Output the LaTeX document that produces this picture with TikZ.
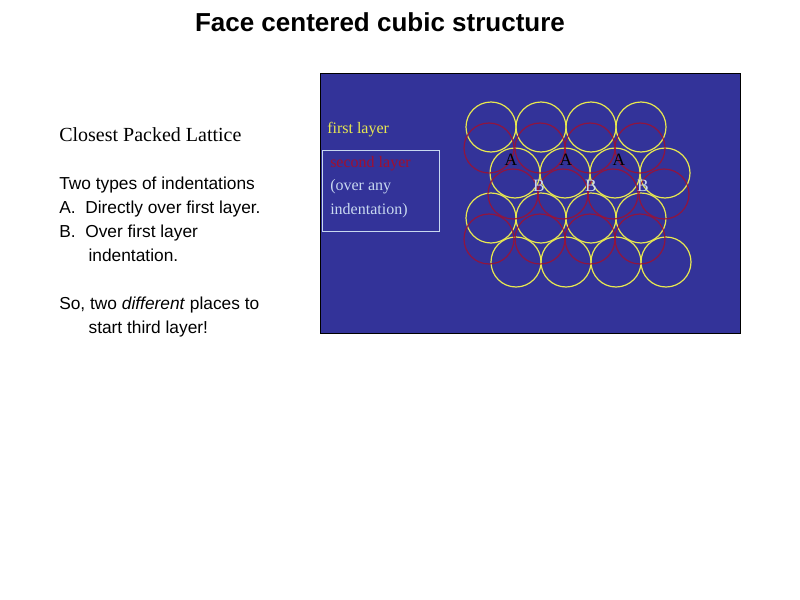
\documentclass[tikz,border=0pt]{standalone}
\usepackage{fontspec}
\setmainfont{Liberation Serif}
\newfontfamily\arial{Liberation Sans}
\definecolor{bg}{HTML}{333399}
\definecolor{yel}{HTML}{E8E850}
\definecolor{rd}{HTML}{A01030}
\definecolor{lb}{HTML}{C8D8F0}
\begin{document}
\begin{tikzpicture}[x=0.75pt,y=-0.75pt,
  ycirc/.style={draw=yel,line width=0.9pt},
  rcirc/.style={draw=rd,line width=0.9pt},
  body/.style={font=\arial\fontsize{13}{18}\selectfont,anchor=north west,align=left,inner sep=0}]
\useasboundingbox (0,0) rectangle (800,600);
\fill[white] (0,0) rectangle (800,600);
\node (title) at (380,22) {\arial\bfseries\fontsize{19.5}{22}\selectfont Face centered cubic structure};
\node[anchor=west,inner sep=0] (cpl) at (59,135) {\fontsize{15}{18}\selectfont Closest Packed Lattice};
\node[body] (txt) at (59,177) {Two types of indentations\\
A.\ \ Directly over first layer.\\
B.\ \ Over first layer\\
\hspace*{22pt}indentation.\\[18pt]
So, two \textit{different} places to\\
\hspace*{22pt}start third layer!};
\node[draw=black,fill=bg,line width=0.6pt,minimum width=420*0.75pt,minimum height=260*0.75pt,anchor=north west,inner sep=0] (panel) at (320,73) {};
\foreach \x in {491,541,591,641}{\draw[ycirc] (\x,127) circle (25); \draw[ycirc] (\x,218) circle (25);}
\foreach \x in {515,565,615,665}{\draw[ycirc] (\x,173) circle (25); \draw[ycirc] (\x+1,262) circle (25);}
\foreach \x in {489,540,590,640}{\draw[rcirc,opacity=0.85] (\x,148) circle (25); \draw[rcirc,opacity=0.85] (\x,239) circle (25);}
\foreach \x in {513,563,613,664}{\draw[rcirc,opacity=0.85] (\x,194) circle (25);}
\foreach \x in {511,566,619}{\node[text=black,font=\fontsize{13}{14}\selectfont] at (\x,160) {A};}
\foreach \x in {539,591,643}{\node[text=lb,font=\fontsize{13}{14}\selectfont] at (\x,186) {B};}
\node[anchor=west,inner sep=0,text=yel,font=\fontsize{12}{14}\selectfont] (fl) at (327,130) {first layer};
\node[draw=lb,line width=0.6pt,anchor=north west,minimum width=117*0.75pt,minimum height=81*0.75pt] (sl) at (322,150) {};
\node[anchor=north west,align=left,inner sep=0,font=\fontsize{12}{17.5}\selectfont] (slt) at (330,156) {\textcolor{rd}{second layer}\\\textcolor{lb}{(over any}\\\textcolor{lb}{indentation)}};
\end{tikzpicture}
\end{document}
